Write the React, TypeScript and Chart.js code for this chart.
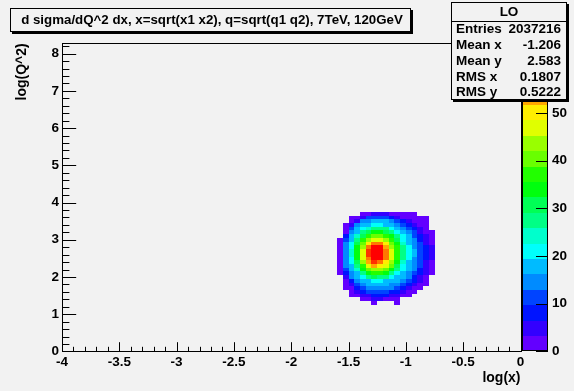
import React, { useEffect, useRef } from 'react';
import { Chart, registerables } from 'chart.js';

Chart.register(...registerables);

// ---------------- data ----------------
const CHART_TITLE = 'd sigma/dQ^2 dx, x=sqrt(x1 x2), q=sqrt(q1 q2), 7TeV, 120GeV';
const X_TITLE = 'log(x)';
const Y_TITLE = 'log(Q^2)';

const X_MIN = -4;
const X_MAX = 0;
const Y_MIN = 0;
const Y_MAX = 8.28;
const Z_MAX = 64.6;
const N_CONTOURS = 20;

const X_TICKS = [-4, -3.5, -3, -2.5, -2, -1.5, -1, -0.5, 0];
const Y_TICKS = [0, 1, 2, 3, 4, 5, 6, 7, 8];
const Z_TICKS = [0, 10, 20, 30, 40, 50, 60];
const X_MINOR_STEP = 0.1;
const Y_MINOR_STEP = 0.2;

// histogram binning of the drawn region
const BIN_X_START = -1.65;
const BIN_X_WIDTH = 0.05;
const BIN_Y_TOP = 3.75;
const BIN_Y_HEIGHT = 0.1;

// contour level of each bin ('.' = empty, 0-9 then a-j = levels 10-19), rows from top
const LEVEL_ROWS = [
  '.....0011100000....',
  '...00133332100000..',
  '...01445554321000..',
  '..014556655432100..',
  '..035678886543210..',
  '..04589aa986543100.',
  '..2579bccba8653210.',
  '.0358bdeedb9654210.',
  '.0469cfhhfca754310.',
  '.046adhjjgdb864321.',
  '.047aeijjheb865321.',
  '.047aeijjheb865321.',
  '.046aehjjheb864321.',
  '.0469dgihfda754310.',
  '.0458begfec9654310.',
  '.0357acddca8654210.',
  '.02458abba86543210.',
  '..145689886554210..',
  '..024556655543210..',
  '..013455554432100..',
  '..00234444432100...',
  '...012333322100....',
  '...00112221100.....',
  '.....0011000.......',
  '.......0...0.......',
];

const STATS_TITLE = 'LO';
const STATS_LABELS = ['Entries', 'Mean x', 'Mean y', 'RMS x', 'RMS y'];
const STATS_VALUES = ['2037216', '-1.206', '2.583', '0.1807', '0.5222'];

const PALETTE = [
  '#6300ff', '#3300ff', '#0014ff', '#0044ff', '#008bff',
  '#00bbff', '#00fffb', '#00ffcc', '#00ff85', '#00ff55',
  '#00ff0e', '#22ff00', '#69ff00', '#99ff00', '#e0ff00',
  '#ffee00', '#ffa700', '#ff7700', '#ff3000', '#ff0000',
];

// ---------------- style ----------------
const BG = '#f2f2f2';
const FONT_FAMILY = '"Liberation Sans", Arial, Helvetica, sans-serif';
const LEVEL_CODES = '0123456789abcdefghij';

type Cell = { x: number; y: number; z: number };

const CELLS: Cell[] = [];
LEVEL_ROWS.forEach((row, i) => {
  row.split('').forEach((ch, j) => {
    const lvl = LEVEL_CODES.indexOf(ch);
    if (lvl < 0) return;
    CELLS.push({
      x: BIN_X_START + (j + 0.5) * BIN_X_WIDTH,
      y: BIN_Y_TOP - (i + 0.5) * BIN_Y_HEIGHT,
      z: ((lvl + 0.5) * Z_MAX) / N_CONTOURS,
    });
  });
});

const colorFor = (z: number) => {
  const k = Math.max(0, Math.min(N_CONTOURS - 1, Math.floor(z / (Z_MAX / N_CONTOURS))));
  return PALETTE[k];
};

const heatmapPlugin = {
  id: 'heatmap',
  beforeDraw(chart: any) {
    const { ctx, width, height } = chart;
    ctx.save();
    ctx.fillStyle = BG;
    ctx.fillRect(0, 0, width, height);
    ctx.restore();
  },
  beforeDatasetsDraw(chart: any) {
    const { ctx, chartArea } = chart;
    const xs = chart.scales.x;
    const ys = chart.scales.y;
    const zs = chart.scales.z;
    ctx.save();
    ctx.beginPath();
    ctx.rect(chartArea.left, chartArea.top, chartArea.right - chartArea.left, chartArea.bottom - chartArea.top);
    ctx.clip();
    (chart.data.datasets[0].data as Cell[]).forEach((c) => {
      const l = Math.round(xs.getPixelForValue(c.x - BIN_X_WIDTH / 2));
      const r = Math.round(xs.getPixelForValue(c.x + BIN_X_WIDTH / 2));
      const t = Math.round(ys.getPixelForValue(c.y + BIN_Y_HEIGHT / 2));
      const b = Math.round(ys.getPixelForValue(c.y - BIN_Y_HEIGHT / 2));
      ctx.fillStyle = colorFor(c.z);
      ctx.fillRect(l, t, r - l, b - t);
    });
    ctx.restore();

    // colour palette
    const px0 = Math.round(zs.left + 1.5);
    const px1 = Math.round(zs.left + 27.5);
    ctx.save();
    for (let k = 0; k < N_CONTOURS; k++) {
      const zLo = (k * Z_MAX) / N_CONTOURS;
      const zHi = ((k + 1) * Z_MAX) / N_CONTOURS;
      const yb = Math.round(zs.getPixelForValue(zLo));
      const yt = Math.round(zs.getPixelForValue(zHi));
      ctx.fillStyle = PALETTE[k];
      ctx.fillRect(px0, yt, px1 - px0, yb - yt);
    }
    ctx.strokeStyle = '#000';
    ctx.lineWidth = 1;
    const pt = Math.round(zs.getPixelForValue(Z_MAX));
    const pb = Math.round(zs.getPixelForValue(0));
    ctx.strokeRect(px0 + 0.5, pt + 0.5, px1 - px0 - 1, pb - pt - 1);
    ctx.beginPath();
    Z_TICKS.forEach((v) => {
      const yy = Math.round(zs.getPixelForValue(v)) + 0.5;
      ctx.moveTo(px1, yy);
      ctx.lineTo(px1 - 12, yy);
    });
    ctx.stroke();
    ctx.restore();
  },
  afterDatasetsDraw(chart: any) {
    const { ctx, chartArea } = chart;
    const xs = chart.scales.x;
    const ys = chart.scales.y;
    ctx.save();
    ctx.strokeStyle = '#000';
    ctx.lineWidth = 1;
    const L = Math.round(chartArea.left) + 0.5;
    const R = Math.round(chartArea.right) + 0.5;
    const T = Math.round(chartArea.top) + 0.5;
    const B = Math.round(chartArea.bottom) + 0.5;
    ctx.strokeRect(L, T, R - L, B - T);
    ctx.beginPath();
    // x axis ticks (inward)
    const nx = Math.round((X_MAX - X_MIN) / X_MINOR_STEP);
    for (let i = 0; i <= nx; i++) {
      const v = X_MIN + i * X_MINOR_STEP;
      const major = i % 5 === 0;
      const px = Math.round(xs.getPixelForValue(v)) + 0.5;
      ctx.moveTo(px, B);
      ctx.lineTo(px, B - (major ? 9.3 : 4.7));
    }
    const ny = Math.floor((Y_MAX - Y_MIN) / Y_MINOR_STEP + 1e-6);
    for (let i = 0; i <= ny; i++) {
      const v = Y_MIN + i * Y_MINOR_STEP;
      const major = i % 5 === 0;
      const py = Math.round(ys.getPixelForValue(v)) + 0.5;
      ctx.moveTo(L, py);
      ctx.lineTo(L + (major ? 13.7 : 6.9), py);
    }
    ctx.stroke();
    ctx.restore();
  },
  afterDraw(chart: any) {
    const { ctx } = chart;
    ctx.save();
    const drawBox = (x0: number, y0: number, x1: number, y1: number) => {
      ctx.fillStyle = '#000';
      ctx.fillRect(x0 + 2, y0 + 2, x1 - x0, y1 - y0);
      ctx.fillStyle = BG;
      ctx.fillRect(x0, y0, x1 - x0, y1 - y0);
      ctx.strokeStyle = '#000';
      ctx.lineWidth = 1;
      ctx.strokeRect(x0 + 0.5, y0 + 0.5, x1 - x0 - 1, y1 - y0 - 1);
    };
    // title box
    drawBox(10, 8, 411, 32);
    ctx.fillStyle = '#000';
    ctx.font = `bold 13.3px ${FONT_FAMILY}`;
    ctx.textAlign = 'center';
    ctx.textBaseline = 'middle';
    ctx.fillText(CHART_TITLE, 212, 20.5);

    // stats box
    const sx0 = 451, sx1 = 567, sy0 = 2, sy1 = 100, sep = 21;
    drawBox(sx0, sy0, sx1, sy1);
    ctx.beginPath();
    ctx.moveTo(sx0, sep + 0.5);
    ctx.lineTo(sx1, sep + 0.5);
    ctx.stroke();
    ctx.fillStyle = '#000';
    ctx.font = `bold 13.5px ${FONT_FAMILY}`;
    ctx.textAlign = 'center';
    ctx.fillText(STATS_TITLE, (sx0 + sx1) / 2, (sy0 + sep) / 2 + 1);
    const rowH = (sy1 - sep) / STATS_LABELS.length;
    STATS_LABELS.forEach((lab, k) => {
      const yy = sep + rowH * (k + 0.5) + 0.5;
      ctx.textAlign = 'left';
      ctx.fillText(lab, sx0 + 5, yy);
      ctx.textAlign = 'right';
      ctx.fillText(STATS_VALUES[k], sx1 - 6, yy);
    });
    ctx.restore();
  },
};

const tickFont = { family: FONT_FAMILY, weight: 'bold' as const, size: 13.5 };
const titleFont = { family: FONT_FAMILY, weight: 'bold' as const, size: 14 };

export default function App() {
  const ref = useRef<HTMLCanvasElement>(null);

  useEffect(() => {
    const canvas = ref.current;
    if (!canvas) return;
    const chart = new Chart(canvas, {
      type: 'scatter',
      data: {
        datasets: [
          {
            label: 'LO',
            data: CELLS as any,
            pointRadius: 0,
            pointHoverRadius: 0,
            showLine: false,
          },
        ],
      },
      options: {
        responsive: false,
        devicePixelRatio: 1,
        animation: false,
        events: [],
        layout: { padding: { left: 0, right: 0, top: 43.3, bottom: 0 } },
        plugins: {
          legend: { display: false },
          tooltip: { enabled: false },
          title: { display: false },
        },
        scales: {
          x: {
            type: 'linear',
            position: 'bottom',
            min: X_MIN,
            max: X_MAX,
            afterBuildTicks: (s: any) => {
              s.ticks = X_TICKS.map((v) => ({ value: v }));
            },
            afterFit: (s: any) => {
              s.height = 37;
            },
            grid: { display: false, drawTicks: false },
            border: { display: false },
            ticks: {
              autoSkip: false,
              maxRotation: 0,
              padding: 3,
              color: '#000',
              font: tickFont,
              callback: (v: any) => String(v),
            },
            title: {
              display: true,
              text: X_TITLE,
              align: 'end',
              color: '#000',
              font: titleFont,
              padding: { top: 0, bottom: 1.6 },
            },
          },
          y: {
            type: 'linear',
            position: 'left',
            min: Y_MIN,
            max: Y_MAX,
            afterBuildTicks: (s: any) => {
              s.ticks = Y_TICKS.map((v) => ({ value: v }));
            },
            afterFit: (s: any) => {
              s.width = 62;
            },
            grid: { display: false, drawTicks: false },
            border: { display: false },
            ticks: {
              autoSkip: false,
              padding: 3,
              color: '#000',
              font: tickFont,
              callback: (v: any) => String(v),
            },
            title: {
              display: true,
              text: Y_TITLE,
              align: 'end',
              color: '#000',
              font: titleFont,
              padding: { top: 14, bottom: 0 },
            },
          },
          z: {
            type: 'linear',
            axis: 'y',
            position: 'right',
            min: 0,
            max: Z_MAX,
            afterBuildTicks: (s: any) => {
              s.ticks = Z_TICKS.map((v) => ({ value: v }));
            },
            afterFit: (s: any) => {
              s.width = 53.5;
            },
            grid: { display: false, drawTicks: false },
            border: { display: false },
            ticks: {
              autoSkip: false,
              padding: 31.5,
              color: '#000',
              font: tickFont,
              callback: (v: any) => String(v),
            },
          },
        },
      } as any,
      plugins: [heatmapPlugin],
    });
    return () => chart.destroy();
  }, []);

  return (
    <div style={{ position: 'fixed', left: 0, top: 0, width: 574, height: 391, background: BG }}>
      <canvas ref={ref} width={574} height={391} style={{ display: 'block', width: 574, height: 391 }} />
    </div>
  );
}
